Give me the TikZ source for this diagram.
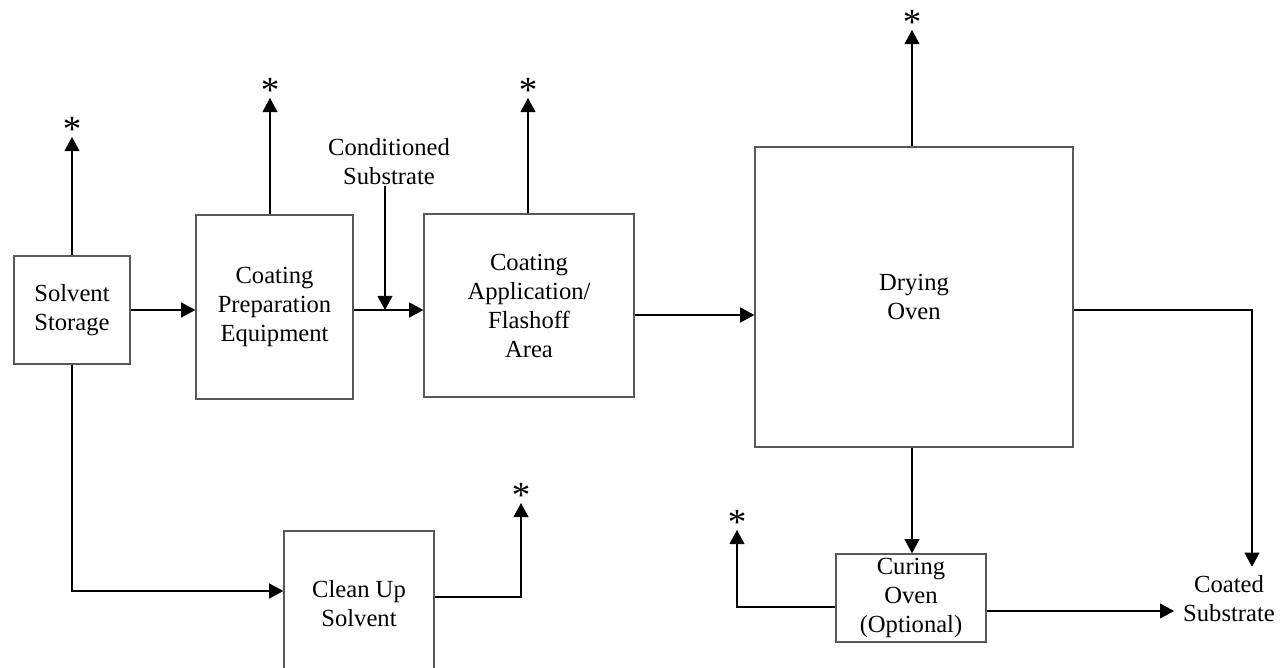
\documentclass[tikz,border=0pt]{standalone}
\usepackage{fontspec}
\setmainfont{Liberation Serif}
\usepackage{tikz}
\usetikzlibrary{arrows.meta, positioning, calc}

\tikzset{
  unit/.style={draw=black!65, line width=0.8pt, align=center, inner sep=2pt},
  flow/.style={line width=0.6pt, -{Triangle[length=8pt, width=8.5pt]}},
  vent/.style={inner sep=0pt, font=\fontsize{21}{21}\selectfont},
  tag/.style={align=center, inner sep=0pt}
}

\begin{document}
\begin{tikzpicture}[font=\fontsize{14}{16.5}\selectfont]
  \useasboundingbox (0,0) rectangle (25.68,13.36);
  \clip (0,0) rectangle (25.68,13.36);

  % process units
  \node[unit, minimum width=2.32cm, minimum height=2.16cm] (store) at (1.44,7.16) {Solvent\\Storage};
  \node[unit, minimum width=3.14cm, minimum height=3.68cm] (prep) at (5.49,7.22) {Coating\\Preparation\\Equipment};
  \node[unit, minimum width=4.2cm, minimum height=3.66cm] (apply) at (10.58,7.25) {Coating\\Application/\\Flashoff\\Area};
  \node[unit, minimum width=6.36cm, minimum height=6.0cm] (dry) at (18.28,7.42) {Drying\\Oven};
  \node[unit, minimum width=3.0cm, minimum height=2.92cm] (clean) at (7.18,1.28) {Clean Up\\Solvent};
  \node[unit, minimum width=3.0cm, minimum height=1.76cm] (cure) at (18.22,1.40) {Curing\\Oven\\(Optional)};

  % feed and product labels
  \node[tag] (cond) at (7.78,10.12) {Conditioned\\Substrate};
  \node[tag, inner sep=5pt] (prod) at (24.58,1.38) {Coated\\Substrate};

  % emission points
  \node[vent, above=-3pt] (ventA) at (1.44,10.62) {*};
  \node[vent, above=-3pt] (ventB) at (5.40,11.40) {*};
  \node[vent, above=-3pt] (ventC) at (10.56,11.40) {*};
  \node[vent, above=-3pt] (ventD) at (18.24,12.76) {*};
  \node[vent, above=-3pt] (ventE) at (10.42,3.30) {*};
  \node[vent, above=-3pt] (ventF) at (14.74,2.76) {*};

  % main line
  \draw[flow] (store.east) -- (store.east -| prep.west);
  \draw[flow] (store.east -| prep.east) -- (store.east -| apply.west);
  \draw[flow] ([xshift=-0.08cm]cond.south) -- ([xshift=-0.08cm]cond.south |- store.east);
  \draw[flow] ([yshift=-0.19cm]apply.east) -- ([yshift=-0.19cm]apply.east -| dry.west);
  \draw[flow] (dry.south -| ventD) -- (cure.north -| ventD);
  \draw[flow] ([yshift=-0.26cm]dry.east) -| ([xshift=0.46cm]prod.north);
  \draw[flow] ([yshift=-0.26cm]cure.east) -- ([yshift=-0.26cm]cure.east -| prod.west);
  \draw[flow] (store.south) |- ([yshift=0.26cm]clean.west);

  % vents
  \draw[flow] (store.north) -- ([yshift=3pt]ventA.south);
  \draw[flow] (prep.north -| ventB) -- ([yshift=3pt]ventB.south);
  \draw[flow] (apply.north -| ventC) -- ([yshift=3pt]ventC.south);
  \draw[flow] (dry.north -| ventD) -- ([yshift=3pt]ventD.south);
  \draw[flow] ([yshift=0.14cm]clean.east) -| ([yshift=3pt]ventE.south);
  \draw[flow] ([yshift=-0.18cm]cure.west) -| ([yshift=3pt]ventF.south);
\end{tikzpicture}
\end{document}
